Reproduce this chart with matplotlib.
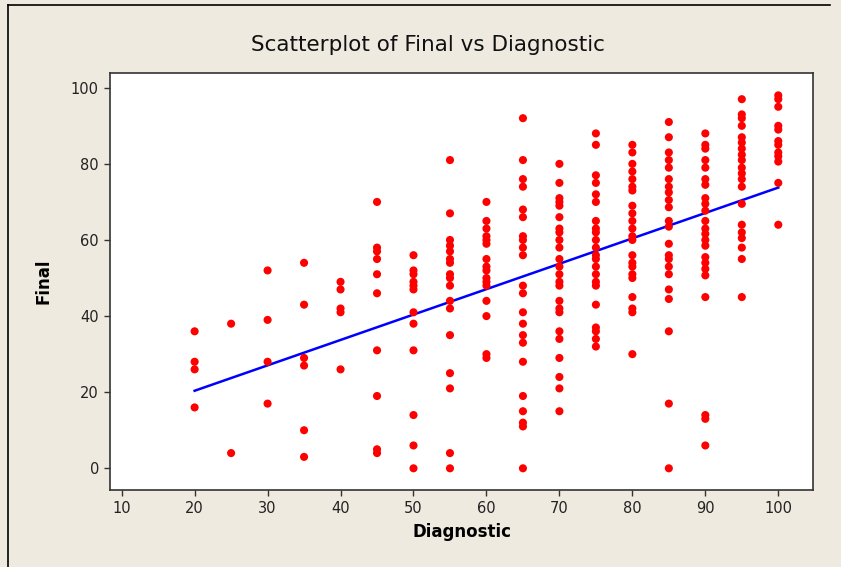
import numpy as np
import matplotlib
matplotlib.use("Agg")
import matplotlib.pyplot as plt
from matplotlib.lines import Line2D

# Final scores, one list per Diagnostic score
diag_levels = [20, 25, 30, 35, 40, 45, 50, 55, 60, 65, 70, 75, 80, 85, 90, 95, 100]
final_20 = [36, 28, 26, 16]
final_25 = [38, 4]
final_30 = [52, 39, 28, 17]
final_35 = [54, 43, 29, 27, 10, 3]
final_40 = [49, 47, 42, 41, 26]
final_45 = [70, 58, 57, 55, 51, 46, 31, 19, 5, 4]
final_50 = [56, 52, 51, 49, 48, 47, 41, 38, 31, 14, 6, 0]
final_55 = [81, 67, 60, 58.5, 57, 55, 54, 51, 50, 48, 44, 42, 35, 25, 21, 4, 0]
final_60 = [70, 65, 63, 61, 60, 59, 55, 53, 52, 50, 49, 48, 44, 40, 30, 29]
final_65 = [92, 81, 76, 74, 68, 66, 61, 60, 58, 56, 48, 46, 41, 38, 35, 33, 28,
            19, 15, 12, 11, 0]
final_70 = [80, 75, 71, 70, 69, 66, 63, 62, 60, 58, 55, 53, 51, 49, 48, 44, 42,
            41, 36, 34, 29, 24, 21, 15]
final_75 = [88, 85, 77, 75, 72, 70, 65, 63, 62, 60, 58, 56, 55, 53, 51, 49, 48,
            43, 37, 36, 34, 32]
final_80 = [85, 83, 80, 78, 76, 74, 73, 69, 67, 65, 63, 61, 60, 56, 54, 53, 51,
            50, 45, 42, 41, 30]
final_85 = [91, 87, 83, 81, 79, 76, 74, 72.5, 70.5, 68.6, 65, 63.5, 59, 56, 55,
            53, 51, 47, 44.5, 36, 17, 0]
final_90 = [88, 85, 84, 81, 79, 76, 74.5, 71, 69.5, 67.7, 65, 63, 61.6, 60, 58.5,
            55.5, 54, 52.4, 50.7, 45, 14, 13, 6]
final_95 = [97, 93, 92, 90, 87, 85.6, 84, 82.4, 81, 79, 77.5, 76, 74, 69.5, 64,
            62, 60.5, 58, 55, 45]
final_100 = [98, 97, 95, 90, 89, 86, 85, 83, 82, 80.6, 75, 64]

final_groups = [final_20, final_25, final_30, final_35, final_40, final_45,
                final_50, final_55, final_60, final_65, final_70, final_75,
                final_80, final_85, final_90, final_95, final_100]

x_ticks = [10, 20, 30, 40, 50, 60, 70, 80, 90, 100]
y_ticks = [0, 20, 40, 60, 80, 100]

diagnostic = np.concatenate([[d] * len(g) for d, g in zip(diag_levels, final_groups)])
final = np.concatenate(final_groups)

bg = "#EEEAE0"
fig = plt.figure(figsize=(8.41, 5.67), dpi=100, facecolor=bg)
ax = fig.add_axes([110 / 841, 1 - 490 / 567, 703.3 / 841, 416.7 / 567])
ax.set_facecolor("white")

ax.scatter(diagnostic, final, s=34, color="#FF0000", edgecolors="none", zorder=3)

# least squares line over the data range
slope, intercept = np.polyfit(diagnostic, final, 1)
xl = np.array([diagnostic.min(), diagnostic.max()])
ax.plot(xl, intercept + slope * xl, color="#0000FF", lw=1.8, zorder=2)

ax.set_xlim(8.4, 104.8)
ax.set_ylim(-5.7, 103.8)
ax.set_xticks(x_ticks)
ax.set_yticks(y_ticks)
ax.tick_params(direction="out", length=4, width=1, color="#333333",
               labelsize=10.5, labelcolor="#222222", pad=4)
for side in ["left", "bottom", "right", "top"]:
    ax.spines[side].set_color("#333333")
    ax.spines[side].set_linewidth(1.2)

ax.set_xlabel("Diagnostic", fontsize=12, fontweight="bold", labelpad=5)
ax.set_ylabel("Final", fontsize=12, fontweight="bold", labelpad=13)
fig.text(428 / 841, 1 - 45 / 567, "Scatterplot of Final vs Diagnostic",
         ha="center", va="center", fontsize=15.5, color="#111111")

# window border
fig.add_artist(Line2D([8 / 841, 8 / 841], [0, 1 - 5 / 567], color="black", lw=1.2))
fig.add_artist(Line2D([8 / 841, 830 / 841], [1 - 5 / 567, 1 - 5 / 567], color="black", lw=1.2))

fig.savefig("out.png", dpi=100, facecolor=bg)
